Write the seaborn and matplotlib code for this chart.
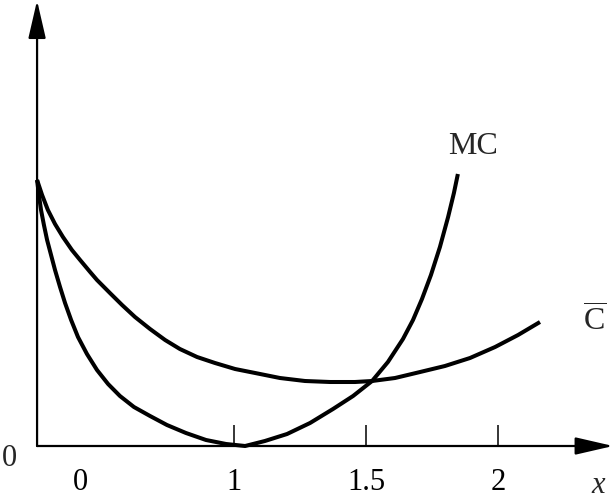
import matplotlib
matplotlib.use("Agg")
import matplotlib.pyplot as plt
import seaborn as sns
import pandas as pd

# ---- data ----
mc_x = [0.254, 0.261, 0.269, 0.280, 0.292, 0.307, 0.322, 0.341, 0.360, 0.383,
        0.409, 0.443, 0.481, 0.523, 0.568, 0.621, 0.682, 0.746, 0.818, 0.894,
        0.970, 1.042, 1.117, 1.201, 1.288, 1.375, 1.451, 1.523, 1.583, 1.640,
        1.678, 1.712, 1.746, 1.780, 1.811, 1.833, 1.848]
mc_y = [2.66, 2.51, 2.36, 2.21, 2.06, 1.91, 1.76, 1.59, 1.43, 1.26,
        1.09, 0.92, 0.76, 0.62, 0.50, 0.39, 0.30, 0.21, 0.13, 0.06,
        0.02, 0.00, 0.05, 0.12, 0.23, 0.37, 0.50, 0.65, 0.84, 1.07,
        1.26, 1.47, 1.71, 1.99, 2.29, 2.53, 2.72]

ac_x = [0.254, 0.273, 0.295, 0.322, 0.352, 0.386, 0.417, 0.455, 0.481, 0.530,
        0.576, 0.625, 0.682, 0.739, 0.795, 0.860, 0.928, 1.004, 1.080, 1.174,
        1.269, 1.364, 1.458, 1.523, 1.610, 1.705, 1.799, 1.894, 1.989, 2.076,
        2.159]
ac_y = [2.66, 2.51, 2.36, 2.22, 2.09, 1.96, 1.86, 1.74, 1.66, 1.53,
        1.41, 1.29, 1.17, 1.06, 0.97, 0.89, 0.83, 0.77, 0.73, 0.68,
        0.65, 0.64, 0.64, 0.65, 0.68, 0.74, 0.80, 0.88, 0.99, 1.11,
        1.24]

tick_pos = [0.417, 1, 1.5, 2]
tick_labels = ["0", "1", "1.5", "2"]

sns.set_theme(style="white")
plt.rcParams["font.family"] = ["Liberation Serif", "DejaVu Serif"]
plt.rcParams["mathtext.fontset"] = "custom"
plt.rcParams["mathtext.rm"] = "Liberation Serif"
plt.rcParams["mathtext.it"] = "Liberation Serif:italic"

fig = plt.figure(figsize=(6.14, 4.98), dpi=100)
ax = fig.add_axes([0, 0, 1, 1])
ax.set_xlim(0.1136, 2.4394)
ax.set_ylim(-0.52, 4.46)

df_mc = pd.DataFrame({"x": mc_x, "y": mc_y})
df_ac = pd.DataFrame({"x": ac_x, "y": ac_y})
sns.lineplot(data=df_mc, x="x", y="y", ax=ax, sort=False, estimator=None,
             color="black", lw=2.9, solid_capstyle="butt", solid_joinstyle="round")
sns.lineplot(data=df_ac, x="x", y="y", ax=ax, sort=False, estimator=None,
             color="black", lw=2.9, solid_capstyle="butt", solid_joinstyle="round")

# axes with arrows
x0 = mc_x[0]
arrow = dict(arrowstyle="-|>,head_length=1.3,head_width=0.3", color="black",
             lw=1.6, mutation_scale=18, shrinkA=0, shrinkB=0)
ax.annotate("", xy=(2.436, 0), xytext=(x0, 0), arrowprops=arrow,
            annotation_clip=False)
ax.annotate("", xy=(x0, 4.455), xytext=(x0, 0), arrowprops=arrow,
            annotation_clip=False)

for s in ax.spines.values():
    s.set_visible(False)
ax.spines["bottom"].set_position(("data", 0))
ax.set_yticks([])
ax.set_xticks(tick_pos)
ax.set_xticklabels(tick_labels)
ax.tick_params(axis="x", direction="in", length=15, width=1.1, color="black",
               labelsize=22, pad=16, labelcolor="black", bottom=True)
ax.xaxis.get_major_ticks()[0].tick1line.set_visible(False)
ax.set_xlabel("")
ax.set_ylabel("")

ax.text(0.148, -0.12, "0", fontsize=22, ha="center", va="center")
ax.text(2.379, -0.39, "x", fontsize=22, style="italic", ha="center", va="center")
ax.text(1.905, 3.00, "MC", fontsize=23, ha="center", va="center")
ax.text(2.367, 1.25, r"$\overline{\mathrm{C}}$", fontsize=23, ha="center", va="center")

fig.savefig("out.png", dpi=100)
